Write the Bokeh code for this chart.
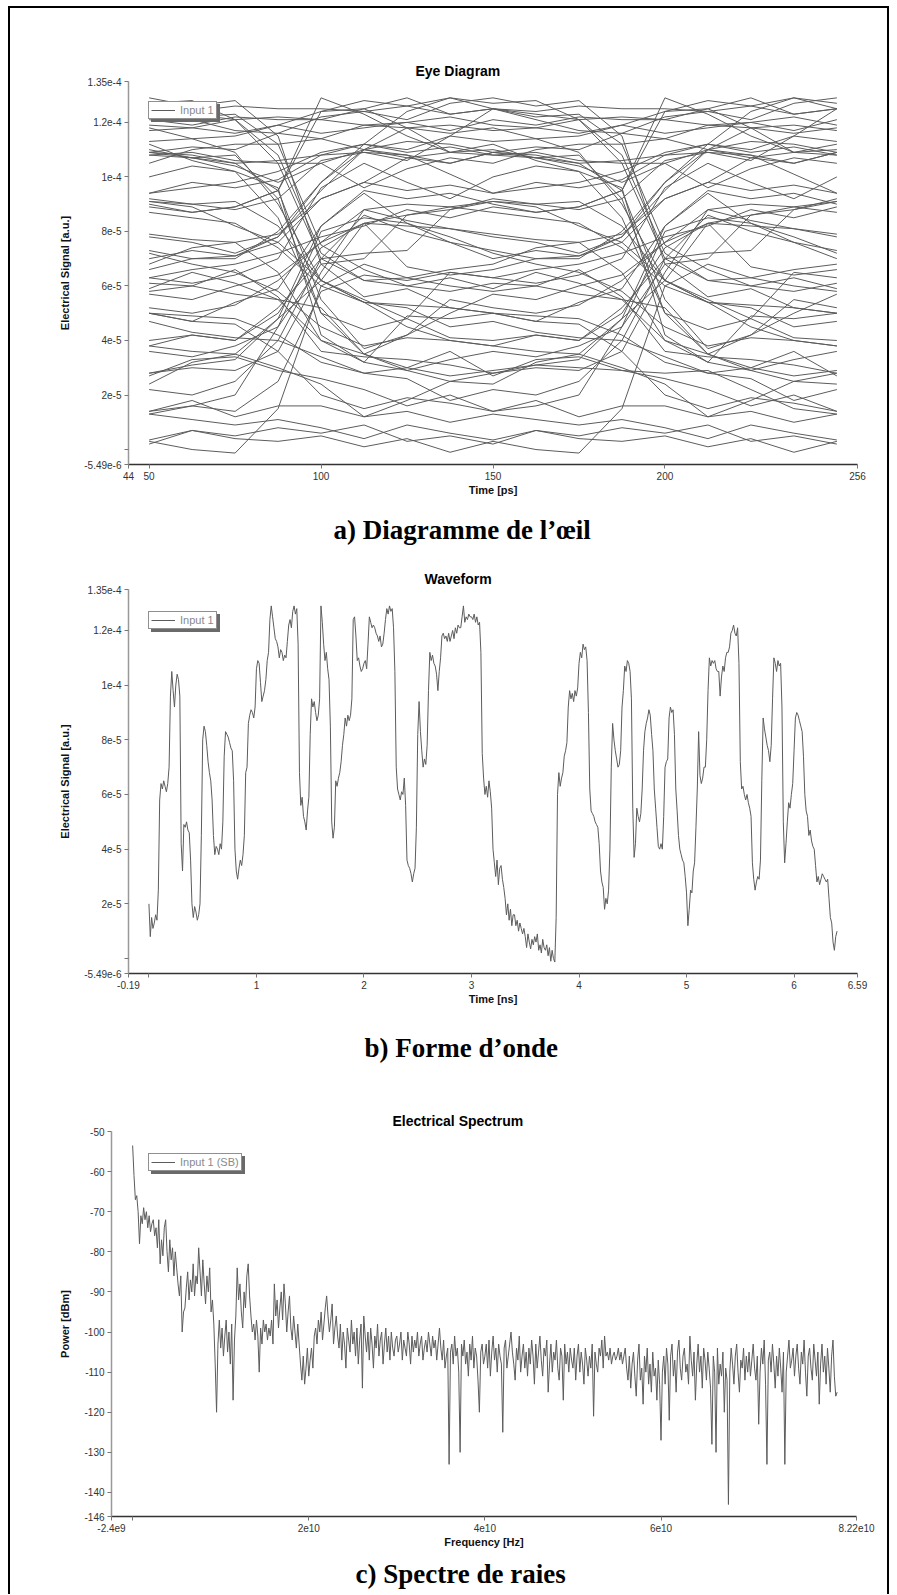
import numpy as np
from bokeh.plotting import figure
from bokeh.models import (Range1d, FixedTicker, CustomJSTickFormatter, Legend,
                          LegendItem, Title)
from bokeh.layouts import column
from bokeh.embed import file_html
from bokeh.resources import INLINE

# ---------------------------------------------------------------- data
wave_step_ns = 0.0125      # spacing of the waveform samples
wave_unit = 1e-5           # waveform values below are in units of 1e-5 a.u.
wave_values = [
    2.0, 0.8, 1.5, 1.1, 1.3, 1.6, 1.4, 2.5,
    5.8, 6.4, 6.2, 6.5, 6.3, 6.1, 6.4, 7.0,
    9.6, 10.5, 9.8, 9.2, 10.0, 10.4, 10.2, 9.6,
    4.2, 3.2, 4.9, 4.8, 5.0, 4.7, 4.6, 3.6,
    2.0, 1.5, 1.9, 1.7, 1.4, 1.6, 2.0, 4.5,
    8.0, 8.5, 8.3, 7.8, 7.2, 6.8, 6.5, 5.8,
    4.5, 3.8, 4.1, 4.0, 3.8, 4.2, 4.0, 5.0,
    7.4, 8.3, 8.2, 8.1, 7.9, 7.7, 7.6, 6.5,
    4.0, 3.2, 2.9, 3.3, 3.6, 3.4, 3.8, 4.5,
    6.8, 7.0, 8.6, 8.9, 9.1, 9.0, 8.8, 9.2,
    10.6, 10.9, 10.8, 10.1, 9.4, 9.6, 9.8, 10.2,
    10.9, 11.2, 12.4, 12.9, 12.5, 12.1, 11.7, 11.6,
    11.4, 11.0, 11.3, 11.2, 10.9, 11.1, 11.0, 11.6,
    12.2, 12.4, 12.1, 12.7, 12.9, 12.6, 12.8, 11.5,
    6.8, 5.6, 5.9, 5.2, 5.0, 4.7, 5.4, 5.9,
    8.2, 9.5, 9.2, 9.4, 9.0, 8.7, 8.9, 9.5,
    12.9, 12.3, 11.5, 10.9, 11.2, 10.6, 10.2, 8.5,
    5.0, 4.4, 4.8, 6.5, 6.3, 6.6, 6.8, 7.2,
    7.8, 8.2, 8.8, 8.5, 8.9, 8.7, 8.9, 9.5,
    12.4, 12.5, 11.8, 10.9, 11.0, 10.7, 10.5, 10.6,
    10.8, 10.9, 10.6, 11.5, 12.5, 12.3, 12.1, 12.2,
    12.1, 11.9, 11.8, 11.6, 11.8, 11.4, 11.5, 11.9,
    12.4, 12.8, 12.6, 12.9, 12.7, 12.8, 12.1, 10.5,
    7.0, 6.2, 6.0, 5.8, 6.1, 6.0, 6.6, 5.6,
    3.6, 3.4, 3.3, 3.1, 2.8, 3.1, 3.3, 4.8,
    8.2, 9.4, 8.3, 7.6, 7.0, 7.3, 7.1, 7.8,
    9.8, 11.2, 10.9, 11.1, 10.8, 10.7, 10.4, 9.8,
    10.5, 11.0, 11.8, 11.9, 11.7, 11.8, 11.6, 11.9,
    11.6, 11.8, 12.0, 11.7, 12.1, 11.9, 12.2, 12.1,
    12.1, 12.5, 12.9, 12.3, 12.5, 12.4, 12.6, 12.5,
    12.5, 12.4, 12.6, 12.3, 12.5, 12.2, 12.3, 11.2,
    7.5, 6.6, 6.0, 6.3, 5.9, 6.5, 6.1, 5.5,
    4.0, 3.5, 3.0, 3.6, 2.7, 3.3, 3.4, 2.9,
    2.6, 2.2, 1.6, 2.0, 1.4, 1.8, 1.2, 1.6,
    1.6, 1.2, 1.4, 1.0, 1.3, 1.1, 0.9, 1.1,
    0.8, 0.4, 0.9, 0.6, 0.35, 0.7, 0.5, 0.8,
    0.6, 0.9, 0.3, 0.5, 0.2, 0.7, 0.4, 0.3,
    0.5, 0.1, 0.4, -0.1, 0.3, 0.0, -0.13, 1.5,
    6.0, 6.8, 6.3, 6.6, 6.8, 7.4, 7.6, 7.9,
    9.2, 9.8, 9.5, 9.7, 9.4, 9.8, 9.6, 9.9,
    10.8, 11.2, 11.0, 11.5, 11.3, 11.4, 10.9, 9.0,
    6.2, 5.4, 5.3, 5.2, 5.0, 4.9, 4.8, 4.2,
    3.2, 2.8, 2.6, 1.8, 2.2, 2.0, 2.5, 4.0,
    7.0, 8.6, 8.0, 7.6, 7.3, 7.0, 7.1, 7.6,
    9.2, 9.8, 10.7, 10.5, 10.9, 10.8, 10.5, 9.5,
    5.5, 3.7, 4.2, 5.5, 5.2, 5.0, 5.3, 6.2,
    7.6, 8.3, 8.6, 8.8, 9.1, 8.9, 8.2, 7.6,
    6.2, 5.5, 4.8, 4.1, 4.0, 4.2, 4.0, 5.2,
    7.0, 7.2, 7.3, 8.8, 9.2, 9.0, 9.1, 8.2,
    6.2, 5.4, 4.5, 4.0, 3.8, 3.6, 3.5, 3.0,
    2.4, 1.2, 1.8, 2.5, 2.4, 3.2, 3.5, 4.8,
    6.2, 8.3, 6.7, 6.4, 6.6, 7.0, 7.0, 8.0,
    9.8, 11.0, 10.7, 10.9, 10.8, 10.9, 10.6, 10.5,
    10.5, 9.6, 10.3, 10.7, 10.5, 11.0, 11.2, 11.2,
    11.4, 11.9, 12.0, 12.2, 11.9, 11.8, 12.1, 10.8,
    7.2, 6.2, 6.3, 6.0, 5.8, 6.0, 5.7, 5.5,
    5.2, 3.5, 2.9, 2.5, 2.8, 3.0, 2.9, 3.6,
    6.5, 8.8, 8.4, 8.1, 7.8, 7.6, 7.2, 7.8,
    9.5, 11.0, 10.8, 10.5, 10.9, 10.7, 10.8, 9.2,
    5.0, 3.5, 4.2, 5.0, 5.7, 5.5, 6.0, 6.4,
    7.6, 8.8, 9.0, 8.9, 8.7, 8.5, 8.3, 7.4,
    6.0, 5.4, 5.2, 4.5, 4.7, 4.3, 4.1, 4.0,
    3.4, 2.8, 3.0, 2.7, 2.9, 3.1, 3.0, 2.9,
    2.8, 2.9, 2.2, 1.5, 1.3, 0.6, 0.3, 0.8,
    1.0,
]

bit_period_ps = 100
eye_window_ps = [50, 250]

spec_step_ghz = 0.15625    # spacing of the spectrum points
spec_power_dbm = [
    -53.5, -61, -67, -66, -70, -78, -71, -73, -69, -72, -70, -74, -71, -75, -73, -72,
    -76, -74, -79, -72, -83, -77, -81, -74, -72, -80, -85, -77, -82, -79, -86, -80,
    -84, -88, -91, -86, -100, -95, -94, -89, -85, -92, -87, -90, -83, -91, -86, -88,
    -79, -85, -91, -82, -88, -93, -86, -90, -84, -95, -92, -98, -108, -120, -103, -97,
    -104, -99, -106, -101, -97, -105, -100, -108, -98, -117, -102, -96, -84, -92, -88, -95,
    -99, -90, -94, -86, -83, -91, -96, -100, -98, -102, -97, -101, -110, -99, -103, -97,
    -100, -98, -102, -99, -101, -97, -103, -88, -96, -92, -99, -94, -90, -97, -88, -93,
    -100, -95, -91, -99, -102, -96, -100, -104, -98, -103, -108, -112, -106, -113, -109, -104,
    -111, -107, -104, -109, -101, -99, -103, -97, -100, -95, -102, -98, -94, -91, -96, -100,
    -97, -93, -103, -99, -96, -101, -104, -98, -107, -100, -103, -109, -99, -102, -105, -97,
    -103, -100, -106, -99, -108, -102, -98, -114, -96, -101, -105, -100, -107, -99, -103, -109,
    -101, -104, -98, -106, -102, -100, -108, -103, -99, -105, -101, -107, -100, -104, -106, -102,
    -101, -105, -103, -100, -107, -102, -104, -106, -100, -103, -108, -101, -105, -102, -104, -100,
    -106, -103, -101, -107, -104, -102, -105, -100, -103, -106, -101, -104, -102, -107, -103, -99,
    -104, -107, -102, -109, -106, -104, -133, -105, -103, -108, -101, -106, -104, -110, -130, -103,
    -106, -102, -108, -105, -111, -103, -107, -101, -109, -104, -106, -112, -120, -105, -103, -108,
    -106, -103, -109, -102, -111, -105, -101, -107, -104, -110, -103, -106, -108, -125, -104, -102,
    -109, -106, -103, -100, -105, -108, -112, -104, -107, -101, -110, -106, -103, -109, -105, -111,
    -104, -108, -102, -106, -113, -103, -109, -105, -101, -107, -111, -104, -106, -102, -115, -108,
    -103, -110, -105, -107, -102, -109, -112, -104, -106, -117, -103, -108, -105, -110, -104, -107,
    -109, -104, -112, -106, -103, -110, -105, -108, -113, -104, -107, -111, -106, -109, -103, -121,
    -105, -108, -110, -104, -106, -102, -109, -101, -106, -105, -107, -104, -108, -106, -105, -107,
    -106, -104, -107, -105, -108, -106, -104, -109, -112, -106, -114, -108, -105, -111, -116, -107,
    -103, -112, -109, -118, -106, -110, -104, -113, -108, -115, -105, -111, -109, -117, -107, -113,
    -127, -110, -106, -113, -104, -108, -122, -106, -103, -111, -107, -115, -105, -102, -109, -112,
    -106, -104, -110, -108, -113, -101, -107, -111, -105, -117, -108, -103, -110, -106, -114, -104,
    -107, -112, -105, -109, -114, -128, -106, -110, -130, -104, -113, -108, -111, -105, -120, -109,
    -112, -143, -110, -104, -108, -113, -106, -103, -110, -115, -107, -109, -104, -112, -106, -110,
    -105, -111, -107, -103, -109, -112, -106, -123, -110, -104, -108, -102, -113, -133, -107, -105,
    -110, -103, -108, -114, -106, -111, -104, -109, -115, -105, -133, -110, -106, -102, -109, -107,
    -104, -111, -106, -103, -109, -113, -105, -108, -102, -110, -116, -106, -104, -109, -112, -103,
    -107, -111, -105, -118, -108, -103, -110, -106, -113, -104, -109, -115, -106, -102, -111, -116,
    -115,
]

eye_x_ticks = [44, 50, 100, 150, 200, 256]
eye_x_labels = ["44", "50", "100", "150", "200", "256"]
sig_y_ticks = [-5.49e-6, 0.0, 2e-5, 4e-5, 6e-5, 8e-5, 1e-4, 1.2e-4, 1.35e-4]
sig_y_labels = ["-5.49e-6", "", "2e-5", "4e-5", "6e-5", "8e-5", "1e-4", "1.2e-4", "1.35e-4"]
wave_x_ticks = [-0.19, 0.0, 1, 2, 3, 4, 5, 6, 6.59]
wave_x_labels = ["-0.19", "", "1", "2", "3", "4", "5", "6", "6.59"]
spec_x_ticks = [-2.4e9, 0.0, 2e10, 4e10, 6e10, 8.22e10]
spec_x_labels = ["-2.4e9", "", "2e10", "4e10", "6e10", "8.22e10"]
spec_y_ticks = [-146, -140, -130, -120, -110, -100, -90, -80, -70, -60, -50]
spec_y_labels = ["-146", "-140", "-130", "-120", "-110", "-100", "-90", "-80", "-70", "-60", "-50"]

titles = ["Eye Diagram", "Waveform", "Electrical Spectrum"]
captions = ["a) Diagramme de l\u2019\u0153il", "b) Forme d\u2019onde", "c) Spectre de raies"]
legend_labels = ["Input 1", "Input 1", "Input 1 (SB)"]

# ---------------------------------------------------------------- derived series
t_ns = np.arange(len(wave_values)) * wave_step_ns
sig = np.array(wave_values) * wave_unit

step_ps = wave_step_ns * 1000.0
i_start = int(round(eye_window_ps[0] / step_ps))
n_win = int(round((eye_window_ps[1] - eye_window_ps[0]) / step_ps)) + 1
per_bit = int(round(bit_period_ps / step_ps))
eye_xs, eye_ys = [], []
j = 0
while i_start + j * per_bit + n_win <= len(sig):
    a = i_start + j * per_bit
    eye_xs.append(list(t_ns[a:a + n_win] * 1000.0 - j * bit_period_ps))
    eye_ys.append(list(sig[a:a + n_win]))
    j += 1

freq_hz = np.arange(len(spec_power_dbm)) * spec_step_ghz * 1e9

# ---------------------------------------------------------------- styling helpers
LINE = "#5c5c5c"


def fmt(ticks, labels):
    return CustomJSTickFormatter(args=dict(tv=ticks, tl=labels), code="""
        for (let i = 0; i < tv.length; i++) {
            if (Math.abs(tv[i] - tick) <= 1e-9 * Math.max(1e-12, Math.abs(tv[i])) + 1e-15) return tl[i];
        }
        return "";
    """)


def make_fig(height, xr, yr, left, right, top, bottom):
    p = figure(width=877, height=height, x_range=Range1d(*xr), y_range=Range1d(*yr),
               output_backend="svg", toolbar_location=None,
               min_border_left=left, min_border_right=right,
               min_border_top=top, min_border_bottom=bottom)
    try:
        p.frame_align = False
    except Exception:
        pass
    p.xgrid.visible = False
    p.ygrid.visible = False
    p.outline_line_color = None
    p.background_fill_color = "white"
    p.border_fill_color = "white"
    for ax in (p.xaxis[0], p.yaxis[0]):
        ax.major_label_text_font = "Liberation Sans"
        ax.major_label_text_font_size = "10px"
        ax.major_label_text_color = "#333333"
        ax.axis_label_text_font = "Liberation Sans"
        ax.axis_label_text_font_size = "11px"
        ax.axis_label_text_font_style = "bold"
        ax.axis_label_text_color = "#111111"
        ax.major_tick_in = 0
        ax.major_tick_out = 4
        ax.minor_tick_in = 0
        ax.minor_tick_out = 0
        ax.major_label_standoff = 3
        ax.major_tick_line_color = "#777777"
    p.yaxis[0].axis_line_color = "#999999"
    p.yaxis[0].axis_line_width = 1.5
    p.xaxis[0].axis_line_color = "#333333"
    p.xaxis[0].axis_line_width = 1.5
    p.xaxis[0].axis_label_standoff = 1
    p.yaxis[0].axis_label_standoff = 10
    return p


def set_title(p, text, offset):
    p.title.text = text
    p.title.align = "left"
    p.title.offset = offset
    p.title.standoff = 5
    p.title.text_font = "Liberation Sans"
    p.title.text_font_size = "14px"
    p.title.text_font_style = "bold"
    p.title.text_color = "#000000"


def add_caption(p, text, offset, standoff):
    p.add_layout(Title(text=text, align="left", offset=offset, standoff=standoff,
                       text_font="Liberation Serif", text_font_size="27px",
                       text_font_style="bold", text_color="#000000"), "below")


def add_legend(p, renderer, label, x_off, y_from_top, frame_h):
    h = 16
    common = dict(glyph_width=24, glyph_height=12, label_height=12, label_standoff=5,
                  padding=2, spacing=0, margin=0, label_text_font="Liberation Sans",
                  label_text_font_size="11px", border_line_width=1,
                  background_fill_alpha=1.0)
    shadow = Legend(items=[LegendItem(label=label, renderers=[renderer])],
                    location=(x_off + 3, frame_h - y_from_top - h - 3),
                    background_fill_color="#6a6a6a", border_line_color="#6a6a6a",
                    label_text_color="#6a6a6a", **common)
    main = Legend(items=[LegendItem(label=label, renderers=[renderer])],
                  location=(x_off, frame_h - y_from_top - h),
                  background_fill_color="white", border_line_color="#222222",
                  label_text_color="#8a8a8a", **common)
    p.add_layout(shadow)
    p.add_layout(main)


# ---------------------------------------------------------------- a) eye diagram
pa = make_fig(551, (eye_x_ticks[0], eye_x_ticks[-1]), (sig_y_ticks[0], sig_y_ticks[-1]),
              118, 30, 73, 90)
ra = pa.multi_line(xs=eye_xs, ys=eye_ys, line_color=LINE, line_width=1)
pa.xaxis[0].ticker = FixedTicker(ticks=eye_x_ticks)
pa.xaxis[0].formatter = fmt(eye_x_ticks, eye_x_labels)
pa.yaxis[0].ticker = FixedTicker(ticks=sig_y_ticks)
pa.yaxis[0].formatter = fmt(sig_y_ticks, sig_y_labels)
pa.xaxis[0].axis_label = "Time [ps]"
pa.yaxis[0].axis_label = "Electrical Signal [a.u.]"
set_title(pa, titles[0], 287)
add_caption(pa, captions[0], 205, 29)
add_legend(pa, ra, legend_labels[0], 20, 27, 388)

# ---------------------------------------------------------------- b) waveform
pb = make_fig(527, (wave_x_ticks[0], wave_x_ticks[-1]), (sig_y_ticks[0], sig_y_ticks[-1]),
              118, 30, 30, 108)
rb = pb.line(t_ns, sig, line_color=LINE, line_width=1)
pb.xaxis[0].ticker = FixedTicker(ticks=wave_x_ticks)
pb.xaxis[0].formatter = fmt(wave_x_ticks, wave_x_labels)
pb.yaxis[0].ticker = FixedTicker(ticks=sig_y_ticks)
pb.yaxis[0].formatter = fmt(sig_y_ticks, sig_y_labels)
pb.xaxis[0].axis_label = "Time [ns]"
pb.yaxis[0].axis_label = "Electrical Signal [a.u.]"
set_title(pb, titles[1], 296)
add_caption(pb, captions[1], 236, 47)
add_legend(pb, rb, legend_labels[1], 20, 29, 389)

# ---------------------------------------------------------------- c) spectrum
pc = make_fig(508, (spec_x_ticks[0], spec_x_ticks[-1]), (spec_y_ticks[0], spec_y_ticks[-1]),
              101, 31, 45, 76)
rc = pc.line(freq_hz, spec_power_dbm, line_color=LINE, line_width=1)
pc.xaxis[0].ticker = FixedTicker(ticks=spec_x_ticks)
pc.xaxis[0].formatter = fmt(spec_x_ticks, spec_x_labels)
pc.yaxis[0].ticker = FixedTicker(ticks=spec_y_ticks)
pc.yaxis[0].formatter = fmt(spec_y_ticks, spec_y_labels)
pc.xaxis[0].axis_label = "Frequency [Hz]"
pc.yaxis[0].axis_label = "Power [dBm]"
set_title(pc, titles[2], 281)
add_caption(pc, captions[2], 244, 12)
add_legend(pc, rc, legend_labels[2], 37, 26, 387)

root = column(pa, pb, pc, spacing=0,
              styles={"border-top": "2px solid #000000", "border-left": "2px solid #000000",
                      "border-right": "2px solid #000000", "border-bottom": "none",
                      "background-color": "white",
                      "margin-left": "8px", "margin-top": "6px"})

open("out.html", "w").write(file_html(root, INLINE))
